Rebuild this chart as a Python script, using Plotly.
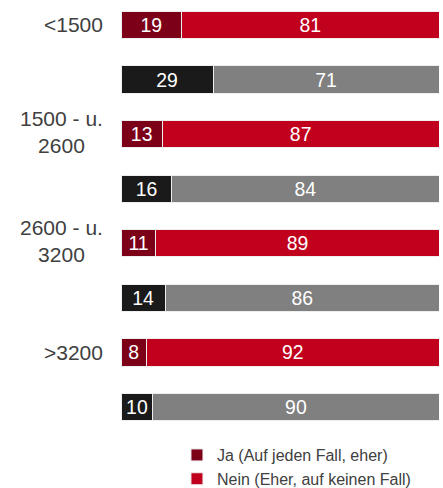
import plotly.graph_objects as go

groups = ["<1500", "1500 - u.<br>2600", "2600 - u.<br>3200", ">3200"]
ja = [19, 29, 13, 16, 11, 14, 8, 10]
nein = [81, 71, 87, 84, 89, 86, 92, 90]
rows = list(range(8))
ja_colors = ["#7b0018", "#1a1a1a"] * 4
nein_colors = ["#c0001d", "#808080"] * 4

FONT = "Liberation Sans, Arial, sans-serif"

fig = go.Figure()
fig.add_trace(go.Bar(
    y=rows, x=ja, orientation="h", name="Ja (Auf jeden Fall, eher)",
    marker=dict(color=ja_colors, line=dict(color="#eeeeee", width=1)),
    text=ja, textposition="inside", insidetextanchor="middle", textangle=0,
    textfont=dict(color="white", size=21, family=FONT), width=0.5,
))
fig.add_trace(go.Bar(
    y=rows, x=nein, orientation="h", name="Nein (Eher, auf keinen Fall)",
    marker=dict(color=nein_colors, line=dict(color="#eeeeee", width=1)),
    text=nein, textposition="inside", insidetextanchor="middle", textangle=0,
    textfont=dict(color="white", size=21, family=FONT), width=0.5,
))

for i, g in enumerate(groups):
    fig.add_annotation(x=0, xref="paper", y=2 * i, yref="y", text=g,
                       xanchor="right", align="center", showarrow=False,
                       xshift=-16, yshift=2 if "<br>" in g else 0,
                       font=dict(size=21, color="#404040", family=FONT))

fig.update_layout(
    barmode="stack", width=443, height=488,
    margin=dict(l=121, r=4, t=0, b=56, autoexpand=False),
    plot_bgcolor="white", paper_bgcolor="white",
    xaxis=dict(range=[0, 100], visible=False),
    yaxis=dict(range=[7.458, -0.458], visible=False),
    uniformtext=dict(minsize=12, mode="show"),
    legend=dict(x=0.176, xanchor="left", y=-0.014, yanchor="top",
                traceorder="normal",
                font=dict(size=16, color="#404040", family=FONT),
                itemwidth=30, tracegroupgap=0, bgcolor="rgba(0,0,0,0)"),
    showlegend=True,
)
fig.write_html(
    "out.html",
    config={"displayModeBar": False},
    post_script="document.body.style.margin='0';document.body.style.overflow='hidden';",
)
